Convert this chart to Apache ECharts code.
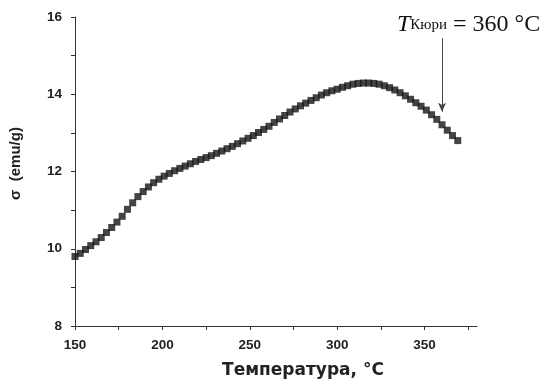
<!DOCTYPE html>
<html>
<head>
<meta charset="utf-8">
<script src="https://cdn.jsdelivr.net/npm/echarts@6/dist/echarts.min.js"></script>
<style>
  html, body { margin: 0; padding: 0; background: #fff; }
  #chart { width: 541px; height: 384px; }
</style>
</head>
<body>
<div id="chart"></div>
<script>
// температура, °C
const temps = [150, 153, 156, 159, 162, 165, 168, 171, 174, 177, 180, 183, 186, 189, 192, 195, 198,
  201, 204, 207, 210, 213, 216, 219, 222, 225, 228, 231, 234, 237, 240, 243, 246, 249, 252, 255,
  258, 261, 264, 267, 270, 273, 276, 279, 282, 285, 288, 291, 294, 297, 300, 303, 306, 309, 312,
  315, 318, 321, 324, 327, 330, 333, 336, 339, 342, 345, 348, 351, 354, 357, 360, 363, 366, 369];
// σ, emu/g
const sigma = [9.80, 9.88, 9.98, 10.08, 10.18, 10.29, 10.42, 10.55, 10.69, 10.84, 11.02, 11.19, 11.35,
  11.48, 11.60, 11.71, 11.80, 11.88, 11.95, 12.02, 12.08, 12.14, 12.20, 12.26, 12.31, 12.36, 12.41,
  12.47, 12.53, 12.59, 12.65, 12.72, 12.79, 12.86, 12.93, 13.01, 13.09, 13.17, 13.27, 13.36, 13.45,
  13.54, 13.62, 13.70, 13.77, 13.84, 13.91, 13.98, 14.04, 14.09, 14.13, 14.18, 14.22, 14.26, 14.28,
  14.29, 14.29, 14.28, 14.26, 14.22, 14.17, 14.11, 14.04, 13.96, 13.87, 13.78, 13.69, 13.59, 13.47,
  13.35, 13.21, 13.07, 12.93, 12.80];
const xTicks = [150, 175, 200, 225, 250, 275, 300, 325, 350, 375];
const xLabels = [150, 200, 250, 300, 350];
const curieT = 360;

const chart = echarts.init(document.getElementById('chart'), null, { renderer: 'canvas' });

const labelFont = { fontFamily: 'Liberation Sans, Arial, sans-serif', fontWeight: 'bold', fontSize: 13.5, color: '#222' };

const option = {
  animation: false,
  backgroundColor: '#fff',
  grid: { left: 72, right: 64, top: 17, bottom: 55 },
  xAxis: {
    type: 'value',
    min: 150,
    max: 380,
    name: 'Температура, °C',
    nameLocation: 'middle',
    nameGap: 36,
    nameTextStyle: { fontFamily: 'DejaVu Sans, sans-serif', fontWeight: 'bold', fontSize: 17, color: '#222', padding: [0, 0, 0, 54] },
    axisLine: { lineStyle: { color: '#333', width: 1 } },
    axisTick: { customValues: xTicks, inside: false, length: 4, lineStyle: { color: '#333' } },
    axisLabel: Object.assign({ customValues: xLabels, margin: 12 }, labelFont),
    splitLine: { show: false }
  },
  yAxis: {
    type: 'value',
    min: 8,
    max: 16,
    interval: 2,
    name: 'σ  (emu/g)',
    nameLocation: 'middle',
    nameGap: 52,
    nameTextStyle: { fontFamily: 'Liberation Sans, Arial, sans-serif', fontWeight: 'bold', fontSize: 15, color: '#222', padding: [0, 0, 0, 16] },
    axisLine: { show: true, lineStyle: { color: '#333', width: 1 } },
    axisTick: { show: true, inside: false, length: 4, lineStyle: { color: '#333' } },
    minorTick: { show: true, splitNumber: 2, length: 4, lineStyle: { color: '#333' } },
    axisLabel: Object.assign({ margin: 13 }, labelFont),
    splitLine: { show: false }
  },
  series: [{
    type: 'scatter',
    symbol: 'rect',
    symbolSize: 7,
    itemStyle: { color: '#151515' },
    data: temps.map((t, i) => [t, sigma[i]]),
    markLine: {
      silent: true,
      symbol: ['none', 'arrow'],
      symbolSize: [6, 9],
      label: { show: false },
      lineStyle: { color: '#444', width: 1, type: 'solid' },
      data: [[{ coord: [curieT, 15.45] }, { coord: [curieT, 13.55] }]]
    }
  }],
  graphic: [{
    type: 'text',
    left: 397,
    top: 13,
    style: {
      text: '{t|T}{k|Кюри}{n| = 360 °C}',
      rich: {
        t: { fontFamily: 'Liberation Serif, Times New Roman, serif', fontStyle: 'italic', fontSize: 24, fill: '#111' },
        k: { fontFamily: 'Liberation Serif, Times New Roman, serif', fontSize: 15, fill: '#111' },
        n: { fontFamily: 'Liberation Serif, Times New Roman, serif', fontSize: 24, fill: '#111' }
      }
    }
  }]
};

chart.setOption(option);
</script>
</body>
</html>
